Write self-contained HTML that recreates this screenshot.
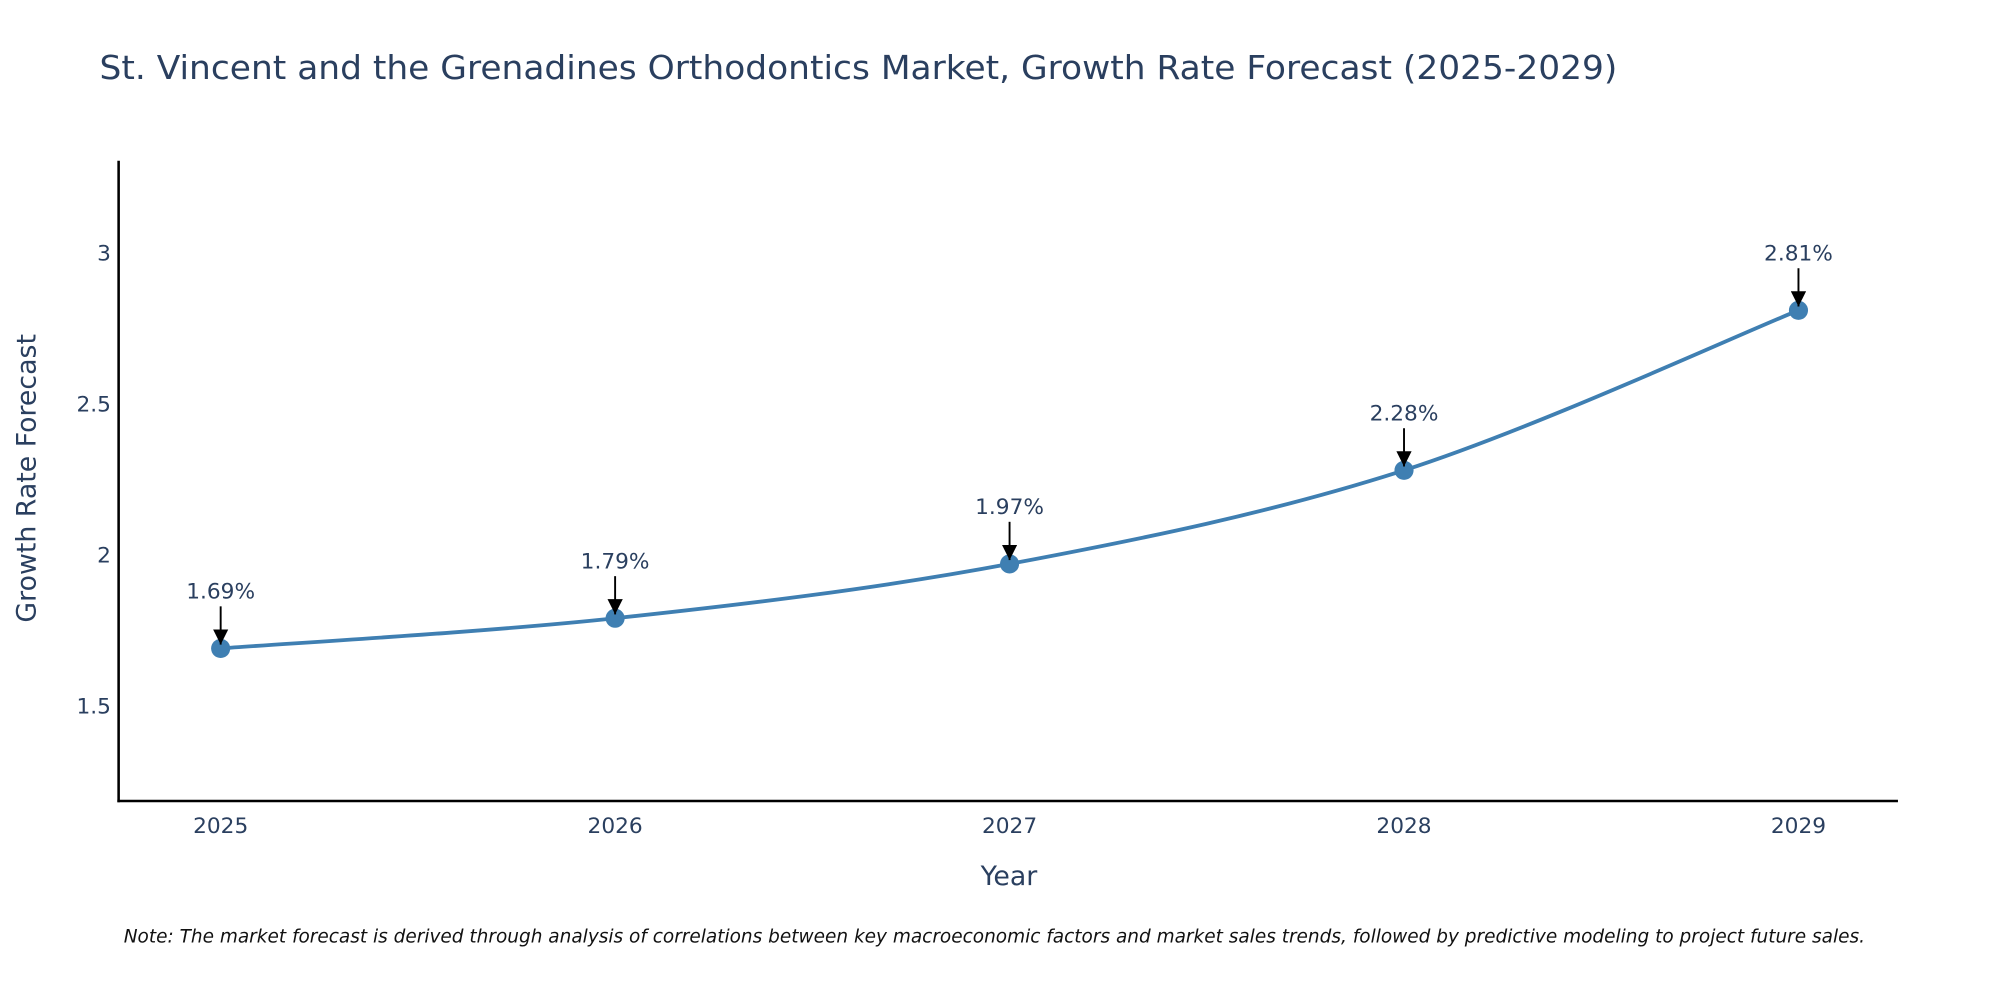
<!DOCTYPE html>
<html><head><meta charset="utf-8"><style>body{margin:0;background:#fff}svg{display:block}</style></head>
<body>
<svg id="chart" width="2000" height="1000" viewBox="0 0 1568 784" xmlns="http://www.w3.org/2000/svg" font-family="'DejaVu Sans', 'Liberation Sans', sans-serif">
<rect width="1568" height="784" fill="#fff"/>
<text x="78" y="62" font-size="26" fill="#2a3f5f" textLength="1190" lengthAdjust="spacingAndGlyphs">St. Vincent and the Grenadines Orthodontics Market, Growth Rate Forecast (2025-2029)</text>
<g id="yticks"></g><g id="xticks"></g>
<line x1="93" y1="126" x2="93" y2="629" stroke="#000" stroke-width="2"/>
<line x1="92" y1="628" x2="1488" y2="628" stroke="#000" stroke-width="2"/>
<path id="line" fill="none" stroke="#3f7fb2" stroke-width="3"/>
<g id="marks"></g>
<text transform="translate(28,375) rotate(-90)" text-anchor="middle" font-size="21" fill="#2a3f5f">Growth Rate Forecast</text>
<text x="791" y="694" text-anchor="middle" font-size="21" fill="#2a3f5f">Year</text>
<text x="97" y="739" font-size="14.5" font-style="italic" fill="#111">Note: The market forecast is derived through analysis of correlations between key macroeconomic factors and market sales trends, followed by predictive modeling to project future sales.</text>
<defs><marker id="ah" viewBox="0 0 10 10" refX="10" refY="5" markerWidth="8" markerHeight="8" orient="auto"><path d="M0,0L10,5L0,10z" fill="#000"/></marker></defs>
</svg>
<script>
const years = [2025, 2026, 2027, 2028, 2029];
const growth = [1.69, 1.79, 1.97, 2.28, 2.81];
const yTickValues = [1.5, 2, 2.5, 3];
const yTickLabels = ["1.5", "2", "2.5", "3"];
const NS = "http://www.w3.org/2000/svg";
const xPos = y => 173 + (y - 2025) * 309.25;
const yPos = v => 435 - (v - 2) * 236.67;
function mk(tag, attrs, parent, text) {
  const e = document.createElementNS(NS, tag);
  for (const k in attrs) e.setAttribute(k, attrs[k]);
  if (text !== undefined) e.textContent = text;
  parent.appendChild(e); return e;
}
const yt = document.getElementById('yticks');
yTickValues.forEach((v, i) => {
  const t = mk('text', {x: 87, y: yPos(v) + 6, 'text-anchor': 'end', 'font-size': 17, fill: '#2a3f5f'}, yt, yTickLabels[i]);
  
  
});
const xt = document.getElementById('xticks');
years.forEach(y => {
  const t = mk('text', {x: xPos(y), y: 653, 'text-anchor': 'middle', 'font-size': 17, fill: '#2a3f5f'}, xt, String(y));
  
  
});
const pts = years.map((y, i) => [xPos(y), yPos(growth[i])]);
let d = `M${pts[0][0]},${pts[0][1]}`;
for (let i = 0; i < pts.length - 1; i++) {
  const p0 = pts[Math.max(0, i - 1)], p1 = pts[i], p2 = pts[i + 1], p3 = pts[Math.min(pts.length - 1, i + 2)];
  const c1 = [p1[0] + (p2[0] - p0[0]) / 6, p1[1] + (p2[1] - p0[1]) / 6];
  const c2 = [p2[0] - (p3[0] - p1[0]) / 6, p2[1] - (p3[1] - p1[1]) / 6];
  d += ` C${c1[0]},${c1[1]} ${c2[0]},${c2[1]} ${p2[0]},${p2[1]}`;
}
document.getElementById('line').setAttribute('d', d);
const mg = document.getElementById('marks');
pts.forEach((p, i) => {
  const c = mk('circle', {cx: p[0], cy: p[1], r: 7.5, fill: '#3f7fb2'}, mg);
  
  
  const a = mk('line', {x1: p[0], y1: p[1] - 33, x2: p[0], y2: p[1] - 3, stroke: '#000', 'stroke-width': 1.5, 'marker-end': 'url(#ah)'}, mg);
  
  
  const t = mk('text', {x: p[0], y: p[1] - 39, 'text-anchor': 'middle', 'font-size': 17, fill: '#2a3f5f'}, mg, growth[i].toFixed(2) + '%');
  
  
});
</script>
</body></html>
